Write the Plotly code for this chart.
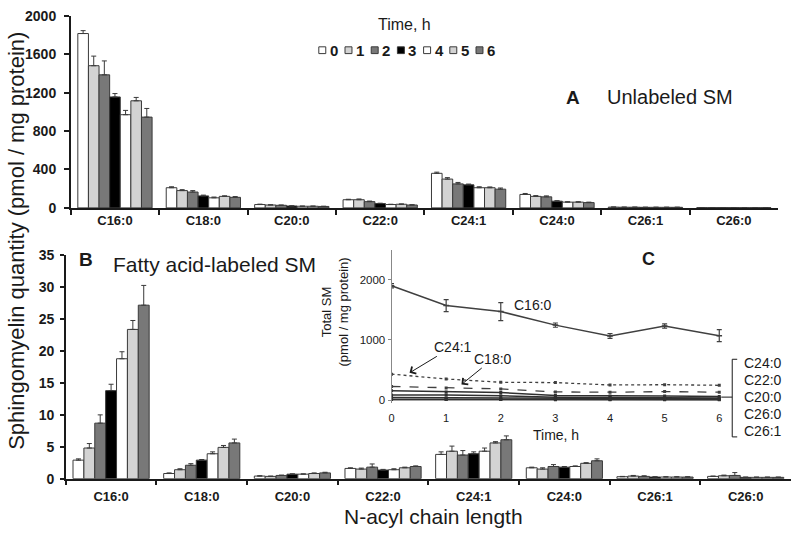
import plotly.graph_objects as go

# ---------------- data ----------------
chains = ["C16:0", "C18:0", "C20:0", "C22:0", "C24:1", "C24:0", "C26:1", "C26:0"]
times = [0, 1, 2, 3, 4, 5, 6]
time_labels = ["0", "1", "2", "3", "4", "5", "6"]
bar_colors = ["#ffffff", "#d3d3d3", "#787878", "#000000", "#ffffff", "#d3d3d3", "#787878"]

# Panel A: unlabeled SM (pmol / mg protein), one list per time point across chains
unl_t0 = [1815, 210, 35, 85, 360, 140, 8, 3]
unl_t1 = [1480, 180, 30, 85, 300, 120, 7, 3]
unl_t2 = [1385, 165, 27, 65, 250, 115, 7, 3]
unl_t3 = [1155, 125, 20, 45, 240, 70, 6, 2]
unl_t4 = [970, 105, 17, 35, 210, 60, 6, 2]
unl_t5 = [1115, 120, 17, 38, 210, 60, 6, 2]
unl_t6 = [945, 110, 15, 30, 195, 55, 6, 2]
unl_err_t0 = [30, 10, 4, 5, 12, 10, 1, 0.5]
unl_err_t1 = [100, 10, 3, 8, 15, 8, 1, 0.5]
unl_err_t2 = [145, 15, 3, 6, 15, 10, 1, 0.5]
unl_err_t3 = [35, 8, 2, 4, 8, 5, 1, 0.5]
unl_err_t4 = [45, 8, 2, 3, 10, 4, 1, 0.5]
unl_err_t5 = [35, 6, 2, 3, 8, 4, 1, 0.5]
unl_err_t6 = [90, 8, 2, 3, 12, 5, 1, 0.5]

# Panel B: fatty acid-labeled SM
lab_t0 = [2.9, 0.8, 0.4, 1.6, 3.8, 1.7, 0.3, 0.35]
lab_t1 = [4.8, 1.4, 0.35, 1.5, 4.3, 1.5, 0.4, 0.45]
lab_t2 = [8.7, 2.1, 0.5, 1.8, 3.7, 1.9, 0.35, 0.5]
lab_t3 = [13.8, 2.9, 0.7, 1.35, 3.9, 1.8, 0.25, 0.2]
lab_t4 = [18.8, 3.9, 0.7, 1.4, 4.3, 1.9, 0.25, 0.2]
lab_t5 = [23.4, 4.9, 0.8, 1.7, 5.6, 2.4, 0.25, 0.2]
lab_t6 = [27.2, 5.6, 0.9, 1.9, 6.1, 2.8, 0.25, 0.2]
lab_err_t0 = [0.2, 0.1, 0.05, 0.1, 0.4, 0.1, 0.05, 0.05]
lab_err_t1 = [0.7, 0.15, 0.05, 0.15, 0.8, 0.2, 0.1, 0.1]
lab_err_t2 = [1.3, 0.25, 0.05, 0.5, 0.7, 0.3, 0.1, 0.45]
lab_err_t3 = [1.0, 0.1, 0.05, 0.1, 0.3, 0.1, 0.05, 0.05]
lab_err_t4 = [1.1, 0.3, 0.05, 0.15, 0.5, 0.1, 0.05, 0.05]
lab_err_t5 = [1.4, 0.3, 0.1, 0.1, 0.2, 0.1, 0.05, 0.05]
lab_err_t6 = [3.1, 0.6, 0.1, 0.1, 0.6, 0.3, 0.05, 0.05]

# Panel C: total SM over time
total_C16_0 = [1900, 1570, 1470, 1245, 1065, 1230, 1070]
total_C16_0_err = [35, 100, 150, 35, 40, 35, 100]
total_C24_1 = [430, 350, 295, 290, 250, 255, 245]
total_C18_0 = [225, 200, 185, 135, 130, 140, 130]
total_C24_0 = [155, 135, 125, 75, 65, 65, 60]
total_C22_0 = [85, 85, 70, 45, 40, 40, 35]
total_C20_0 = [40, 35, 30, 25, 20, 20, 20]
total_C26_0 = [8, 8, 8, 5, 5, 5, 5]
total_C26_1 = [10, 10, 9, 8, 8, 8, 8]
bracket_names = ["C24:0", "C22:0", "C20:0", "C26:0", "C26:1"]

unl = [unl_t0, unl_t1, unl_t2, unl_t3, unl_t4, unl_t5, unl_t6]
unl_err = [unl_err_t0, unl_err_t1, unl_err_t2, unl_err_t3, unl_err_t4, unl_err_t5, unl_err_t6]
lab = [lab_t0, lab_t1, lab_t2, lab_t3, lab_t4, lab_t5, lab_t6]
lab_err = [lab_err_t0, lab_err_t1, lab_err_t2, lab_err_t3, lab_err_t4, lab_err_t5, lab_err_t6]

# ---------------- layout helpers ----------------
W, H = 794, 540
def PX(x): return x / W
def PY(y): return 1 - y / H

FONT = "Arial, Liberation Sans, sans-serif"
INK = "#1a1a1a"
LINE = "#3a3a3a"

fig = go.Figure()

for i, t in enumerate(times):
    fig.add_trace(go.Bar(
        x=chains, y=unl[i], xaxis="x", yaxis="y", name=time_labels[i],
        marker=dict(color=bar_colors[i], line=dict(color=LINE, width=1)),
        error_y=dict(type="data", array=unl_err[i], arrayminus=[0] * len(chains),
                     symmetric=False, color=LINE, thickness=1, width=2.5),
        showlegend=False, offsetgroup=str(i)))
for i, t in enumerate(times):
    fig.add_trace(go.Bar(
        x=chains, y=lab[i], xaxis="x2", yaxis="y2", name=time_labels[i],
        marker=dict(color=bar_colors[i], line=dict(color=LINE, width=1)),
        error_y=dict(type="data", array=lab_err[i], arrayminus=[0] * len(chains),
                     symmetric=False, color=LINE, thickness=1, width=2.5),
        showlegend=False, offsetgroup=str(i)))

# inset lines
lc = "#404040"
fig.add_trace(go.Scatter(x=times, y=total_C16_0, xaxis="x3", yaxis="y3", mode="lines+markers",
                         line=dict(color=lc, width=1.5), marker=dict(symbol="line-ew", size=4, line=dict(color=lc, width=1.5)),
                         error_y=dict(type="data", array=total_C16_0_err, color=lc, thickness=1.2, width=2.5),
                         showlegend=False))
fig.add_trace(go.Scatter(x=times, y=total_C24_1, xaxis="x3", yaxis="y3", mode="lines+markers",
                         line=dict(color=lc, width=1.3, dash="dot"), marker=dict(symbol="square", size=3, color=lc),
                         showlegend=False))
fig.add_trace(go.Scatter(x=times, y=total_C18_0, xaxis="x3", yaxis="y3", mode="lines+markers",
                         line=dict(color=lc, width=1.3, dash="dash"), marker=dict(symbol="square", size=3, color=lc),
                         showlegend=False))
for series in [total_C24_0, total_C22_0, total_C20_0, total_C26_0, total_C26_1]:
    fig.add_trace(go.Scatter(x=times, y=series, xaxis="x3", yaxis="y3", mode="lines+markers",
                             line=dict(color="#303030", width=1.5), marker=dict(symbol="square", size=3, color="#303030"),
                             showlegend=False))

tickfont_cat = dict(family=FONT, size=13, color=INK, weight="bold")
tickfont_y = dict(family=FONT, size=14, color=INK, weight="bold")

fig.update_layout(
    width=W, height=H, autosize=False,
    margin=dict(l=0, r=0, t=0, b=0),
    paper_bgcolor="white", plot_bgcolor="rgba(0,0,0,0)",
    barmode="group", bargap=0.16, bargroupgap=0,
    font=dict(family=FONT, color=INK),
    xaxis=dict(domain=[PX(68), PX(778)], anchor="y", type="category",
               showline=True, linecolor=INK, linewidth=1.5, ticks="outside", tickson="boundaries",
               ticklen=5, tickcolor=INK, tickwidth=1.5, tickfont=tickfont_cat, showgrid=False),
    yaxis=dict(domain=[PY(206), PY(8)], anchor="x", range=[0, 2000], tickvals=[0, 400, 800, 1200, 1600, 2000],
               showline=True, linecolor=INK, linewidth=1.5, ticks="outside", ticklen=5, tickcolor=INK,
               tickwidth=1.5, tickfont=tickfont_y, showgrid=False, zeroline=False, ticklabelstandoff=5),
    xaxis2=dict(domain=[PX(63), PX(791)], anchor="y2", type="category",
                showline=True, linecolor=INK, linewidth=1.5, ticks="outside", tickson="boundaries",
                ticklen=5, tickcolor=INK, tickwidth=1.5, tickfont=tickfont_cat, showgrid=False,
                ticklabelstandoff=5),
    yaxis2=dict(domain=[PY(485), PY(255)], anchor="x2", range=[0, 35], dtick=5,
                showline=True, linecolor=INK, linewidth=1.5, ticks="outside", ticklen=4, tickcolor=INK,
                tickwidth=1.5, tickfont=tickfont_y, showgrid=False, zeroline=False, ticklabelstandoff=3),
    xaxis3=dict(domain=[PX(390), PX(390 + 54.83 * 6.15)], anchor="y3", range=[0, 6.15],
                tickvals=times, showline=False, ticks="", showgrid=False, zeroline=False,
                tickfont=dict(family=FONT, size=11, color=INK), ticklabelstandoff=7),
    yaxis3=dict(domain=[PY(404 + 50 * 0.062), PY(404 - 2500 * 0.062)], anchor="x3", range=[-50, 2500],
                tickvals=[0, 1000, 2000], showline=True, linecolor="#888888", linewidth=1,
                ticks="outside", ticklen=3, tickcolor="#888888",
                tickfont=dict(family=FONT, size=11.5, color=INK), showgrid=False, zeroline=False),
)

ann = []
shapes = []
# panel titles
ann.append(dict(x=PX(572), y=PY(92), xref="paper", yref="paper", text="<b>A</b>", showarrow=False,
                font=dict(size=19, family=FONT, color=INK), xanchor="center", yanchor="middle"))
ann.append(dict(x=PX(604), y=PY(92), xref="paper", yref="paper", text="Unlabeled SM", showarrow=False,
                font=dict(size=20, family=FONT, color=INK), xanchor="left", yanchor="middle"))
ann.append(dict(x=PX(83), y=PY(259), xref="paper", yref="paper", text="<b>B</b>", showarrow=False,
                font=dict(size=19, family=FONT, color=INK), xanchor="center", yanchor="middle"))
ann.append(dict(x=PX(108), y=PY(264), xref="paper", yref="paper", text="Fatty acid-labeled SM", showarrow=False,
                font=dict(size=21, family=FONT, color=INK), xanchor="left", yanchor="middle"))
ann.append(dict(x=PX(648), y=PY(259), xref="paper", yref="paper", text="<b>C</b>", showarrow=False,
                font=dict(size=18, family=FONT, color=INK), xanchor="center", yanchor="middle"))
# axis titles
ann.append(dict(x=PX(14), y=PY(240), xref="paper", yref="paper", text="Sphingomyelin quantity (pmol / mg protein)",
                showarrow=False, textangle=-90, font=dict(size=22, family=FONT, color=INK),
                xanchor="center", yanchor="middle"))
ann.append(dict(x=PX(432), y=PY(524), xref="paper", yref="paper", text="N-acyl chain length",
                showarrow=False, font=dict(size=21, family=FONT, color=INK), xanchor="center", yanchor="middle"))
# legend
ann.append(dict(x=PX(403), y=PY(17), xref="paper", yref="paper", text="Time, h", showarrow=False,
                font=dict(size=16, family=FONT, color=INK), xanchor="center", yanchor="middle"))
for i, lbl in enumerate(time_labels):
    x0 = 317 + i * 26.3
    shapes.append(dict(type="rect", xref="paper", yref="paper", x0=PX(x0), x1=PX(x0 + 7),
                       y0=PY(47), y1=PY(40), fillcolor=bar_colors[i], line=dict(color=LINE, width=1)))
    ann.append(dict(x=PX(x0 + 9), y=PY(43.5), xref="paper", yref="paper", text="<b>%s</b>" % lbl,
                    showarrow=False, font=dict(size=15, family=FONT, color=INK),
                    xanchor="left", yanchor="middle"))
# inset texts
ann.append(dict(x=PX(333), y=PY(313), xref="paper", yref="paper", text="Total SM<br>(pmol / mg protein)",
                showarrow=False, textangle=-90, font=dict(size=13, family=FONT, color=INK),
                xanchor="center", yanchor="middle"))
ann.append(dict(x=PX(555), y=PY(440), xref="paper", yref="paper", text="Time, h", showarrow=False,
                font=dict(size=14, family=FONT, color=INK), xanchor="center", yanchor="middle"))
ann.append(dict(x=2.59, y=1580, xref="x3", yref="y3", text="C16:0", showarrow=False,
                font=dict(size=14, family=FONT, color=INK), xanchor="center", yanchor="middle"))
ann.append(dict(x=0.33, y=452, xref="x3", yref="y3", text="C24:1", showarrow=True, ax=43, ay=-26,
                arrowhead=4, arrowsize=1.6, arrowwidth=1, arrowcolor=INK,
                font=dict(size=14, family=FONT, color=INK)))
ann.append(dict(x=1.28, y=258, xref="x3", yref="y3", text="C18:0", showarrow=True, ax=32, ay=-26,
                arrowhead=4, arrowsize=1.6, arrowwidth=1, arrowcolor=INK,
                font=dict(size=14, family=FONT, color=INK)))
# bracket
shapes.append(dict(type="path", xref="paper", yref="paper",
                   path="M %f %f L %f %f L %f %f L %f %f" % (PX(737), PY(362), PX(732), PY(362),
                                                            PX(732), PY(442), PX(737), PY(442)),
                   line=dict(color=INK, width=1)))
shapes.append(dict(type="line", xref="paper", yref="paper", x0=PX(721), x1=PX(732), y0=PY(401), y1=PY(401),
                   line=dict(color=INK, width=1)))
for k, nm in enumerate(bracket_names):
    ann.append(dict(x=PX(742), y=PY(366 + k * 17.5), xref="paper", yref="paper", text=nm, showarrow=False,
                    font=dict(size=14, family=FONT, color=INK), xanchor="left", yanchor="middle"))

fig.update_layout(annotations=ann, shapes=shapes)
fig.write_html("out.html", config={"displayModeBar": False},
               post_script="document.body.style.margin='0';document.body.style.overflow='hidden';")
